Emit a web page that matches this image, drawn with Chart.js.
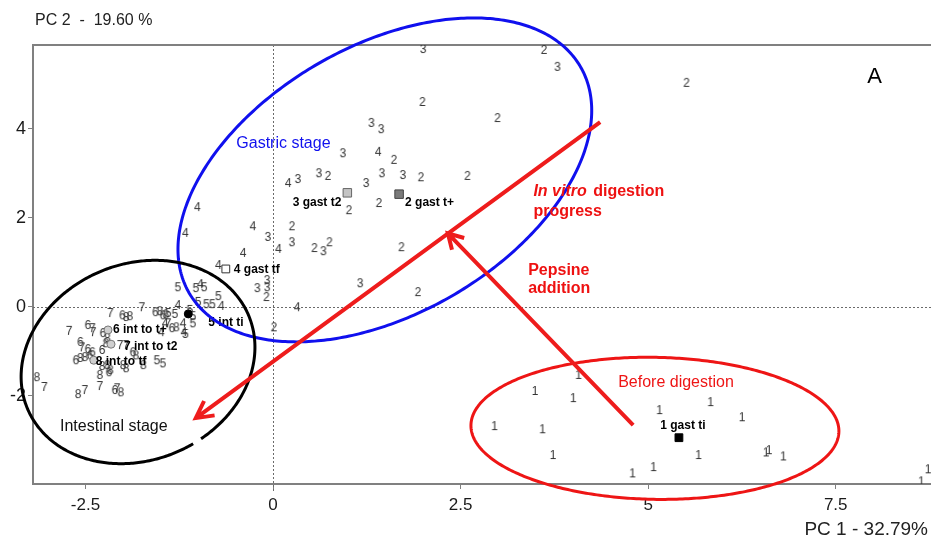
<!DOCTYPE html>
<html><head><meta charset="utf-8">
<script src="https://cdn.jsdelivr.net/npm/chart.js@4/dist/chart.umd.min.js"></script>
<style>html,body{margin:0;padding:0;background:#fff;overflow:hidden}canvas{display:block}</style>
</head><body>
<canvas id="c" width="931" height="543"></canvas>
<script>
// PCA scores (PC1, PC2) for each sampling group, labelled 1..8
const g1 = [[4.07,-1.53],[3.49,-1.89],[4.00,-2.05],[5.83,-2.14],[5.15,-2.32],[6.25,-2.48],[2.95,-2.68],[3.59,-2.75],[3.73,-3.33],[5.67,-3.33],[6.57,-3.27],[6.61,-3.22],[6.80,-3.36],[5.07,-3.60],[4.79,-3.74],[8.73,-3.65],[8.64,-3.92]];
const g2 = [[3.61,5.77],[5.51,5.03],[1.99,4.60],[2.99,4.24],[1.61,3.30],[0.73,2.94],[1.97,2.91],[2.59,2.94],[1.01,2.17],[1.41,2.33],[0.25,1.81],[0.55,1.32],[0.75,1.45],[1.71,1.34],[-0.09,0.22],[1.93,0.33],[0.01,-0.46]];
const g3 = [[2.00,5.79],[3.79,5.39],[1.31,4.13],[1.44,3.99],[0.93,3.45],[0.61,3.00],[1.45,3.00],[1.73,2.96],[1.24,2.78],[0.33,2.87],[-0.07,1.57],[0.25,1.45],[0.67,1.25],[-0.21,0.42],[-0.08,0.60],[-0.08,0.44],[1.16,0.53]];
const g4 = [[1.40,3.48],[0.20,2.78],[-1.01,2.24],[-1.17,1.66],[-0.27,1.81],[0.07,1.30],[-0.40,1.21],[-0.73,0.94],[0.32,-0.01],[-0.97,0.51],[-0.69,0.02],[-1.27,0.04],[-1.44,-0.37],[-1.49,-0.57],[-1.19,-0.57],[-1.20,-0.37]];
const g5 = [[-1.27,0.44],[-1.03,0.42],[-0.92,0.44],[-0.73,0.24],[-1.00,0.11],[-0.89,0.06],[-0.81,0.06],[-1.11,-0.07],[-1.07,-0.21],[-1.07,-0.37],[-1.17,-0.61],[-1.40,-0.14],[-1.31,-0.16],[-1.55,-1.20],[-1.47,-1.27]];
const g6 = [[-1.57,-0.12],[-2.01,-0.19],[-2.47,-0.41],[-1.35,-0.48],[-2.27,-0.59],[-2.57,-0.79],[-2.47,-0.95],[-2.41,-1.02],[-2.63,-1.20],[-2.44,-1.09],[-2.28,-0.97],[-1.87,-1.02],[-2.19,-1.47],[-2.11,-1.87],[-1.47,-0.19]];
const g7 = [[-1.75,-0.01],[-2.17,-0.14],[-2.72,-0.54],[-2.41,-0.48],[-2.40,-0.57],[-1.40,-0.37],[-2.55,-0.91],[-2.04,-0.86],[-1.96,-0.86],[-2.31,-1.78],[-3.05,-1.80],[-2.51,-1.87],[-2.08,-1.83]];
const g8 = [[-1.51,-0.10],[-1.96,-0.23],[-1.91,-0.21],[-1.29,-0.46],[-2.21,-0.70],[-2.57,-1.15],[-2.51,-1.13],[-2.23,-0.82],[-1.83,-1.09],[-2.28,-1.33],[-2.21,-1.31],[-2.17,-1.42],[-2.00,-1.31],[-1.96,-1.38],[-1.73,-1.31],[-2.31,-1.53],[-3.15,-1.58],[-2.60,-1.96],[-2.03,-1.92],[-1.43,-0.17]];

// group centroids
const centroidNames = ['1 gast ti','2 gast t+','3 gast t2','4 gast tf','5 int ti','6 int to t+','7 int to t2','8 int to tf'];
const centroidX = [5.41,1.68,0.99,-0.63,-1.13,-2.20,-2.16,-2.39];
const centroidY = [-2.94,2.53,2.56,0.85,-0.16,-0.52,-0.84,-1.20];

// axis ticks and titles
const xTicks = [-2.5,0,2.5,5,7.5];
const yTicks = [-2,0,2,4];
const xTitle = 'PC 1 - 32.79%';
const yTitle = 'PC 2  -  19.60 %';

const FONT = '"Liberation Sans", Arial, Helvetica, sans-serif';

// each sample is drawn as its group number
function digitStyle(d) {
  const c = document.createElement('canvas');
  c.width = 12; c.height = 14;
  const x = c.getContext('2d');
  x.font = '12px ' + FONT;
  x.fillStyle = '#333';
  x.textAlign = 'center';
  x.textBaseline = 'middle';
  x.fillText(String(d), 6, 7.5);
  return c;
}

const groups = [g1,g2,g3,g4,g5,g6,g7,g8];
const toXY = arr => arr.map(([x,y]) => ({x, y}));

const datasets = [{
  label: 'centroids',
  data: centroidX.map((x,i) => ({x, y: centroidY[i]})),
  pointStyle: ['rect','rect','rect','rect','circle','circle','circle','circle'],
  pointRadius: [5.5,6,6,5.5,4,4,4,4],
  backgroundColor: ['#000','#7a7a7a','#c4c4c4','#fff','#000','#cfcfcf','#cfcfcf','#cfcfcf'],
  borderColor: ['#000','#444','#666','#333','#000','#777','#777','#777'],
  borderWidth: 1
}].concat(groups.map((g,i) => ({
  label: 'group ' + (i+1),
  data: toXY(g),
  pointStyle: digitStyle(i+1),
  pointRadius: 4
})));

// label placement for each centroid: dx, dy, alignment
const centroidLabelPos = [[4,-12,'center'],[6,9,'left'],[-6,10,'right'],[8,1,'left'],[20,9,'left'],[5,0,'left'],[13,2,'left'],[2,1,'left']];

function ellipsePath(ctx, cx, cy, a, b, rotDeg, gap) {
  const r = rotDeg * Math.PI / 180, cr = Math.cos(r), sr = Math.sin(r);
  ctx.beginPath();
  let pen = false;
  for (let i = 0; i <= 400; i++) {
    const t = i / 400 * Math.PI * 2;
    const ex = a * Math.cos(t), ey = b * Math.sin(t);
    const px = cx + ex * cr - ey * sr, py = cy + ex * sr + ey * cr;
    if (gap && Math.hypot(px - gap[0], py - gap[1]) < gap[2]) { pen = false; continue; }
    if (pen) ctx.lineTo(px, py); else { ctx.moveTo(px, py); pen = true; }
  }
  ctx.stroke();
}

function arrow(ctx, x0, y0, x1, y1, len, spread) {
  ctx.beginPath();
  ctx.moveTo(x0, y0); ctx.lineTo(x1, y1);
  const back = Math.atan2(y0 - y1, x0 - x1);
  const s = spread * Math.PI / 180;
  ctx.moveTo(x1 + len * Math.cos(back + s), y1 + len * Math.sin(back + s));
  ctx.lineTo(x1, y1);
  ctx.lineTo(x1 + len * Math.cos(back - s), y1 + len * Math.sin(back - s));
  ctx.stroke();
}

const overlay = {
  id: 'overlay',
  beforeDatasetsDraw(chart) {
    const {ctx, chartArea: a, scales: {x, y}} = chart;
    ctx.save();
    ctx.strokeStyle = '#6a6a6a';
    ctx.lineWidth = 1;
    ctx.setLineDash([2, 2]);
    const x0 = Math.round(x.getPixelForValue(0)) + 0.5;
    const y0 = Math.round(y.getPixelForValue(0)) + 0.5;
    ctx.beginPath();
    ctx.moveTo(x0, a.top); ctx.lineTo(x0, a.bottom + 8);
    ctx.moveTo(a.left, y0); ctx.lineTo(a.right, y0);
    ctx.stroke();
    ctx.setLineDash([]);
    ctx.strokeStyle = '#808080';
    ctx.lineWidth = 2;
    ctx.beginPath();
    ctx.moveTo(a.left - 1, a.top); ctx.lineTo(a.right, a.top);
    ctx.stroke();
    ctx.restore();
  },
  afterDatasetsDraw(chart) {
    const {ctx, scales: {x, y}} = chart;
    const P = (vx, vy) => [x.getPixelForValue(vx), y.getPixelForValue(vy)];
    ctx.save();

    // centroid names
    const meta = chart.getDatasetMeta(0);
    ctx.font = 'bold 12px ' + FONT;
    ctx.fillStyle = '#000';
    ctx.textBaseline = 'middle';
    meta.data.forEach((pt, i) => {
      const [dx, dy, al] = centroidLabelPos[i];
      ctx.textAlign = al;
      ctx.fillText(centroidNames[i], pt.x + dx, pt.y + dy);
    });

    // stage ellipses
    ctx.lineWidth = 3;
    ctx.strokeStyle = '#1010ee';
    let c = P(1.49, 2.85);
    ellipsePath(ctx, c[0], c[1], 226, 134, -30);
    ctx.strokeStyle = '#000';
    c = P(-1.8, -1.24);
    const g = P(-1.03, -2.97);
    ellipsePath(ctx, c[0], c[1], 120, 98, -23, [g[0], g[1], 5]);
    ctx.strokeStyle = '#ee1515';
    c = P(5.09, -2.73);
    ellipsePath(ctx, c[0], c[1], 184, 71, 1);

    // digestion arrows
    ctx.lineWidth = 4;
    ctx.strokeStyle = '#ee1c1c';
    ctx.lineJoin = 'miter';
    let s = P(4.36, 4.15), t = P(-1.03, -2.50);
    arrow(ctx, s[0], s[1], t[0], t[1], 19, 28);
    s = P(4.80, -2.66); t = P(2.33, 1.65);
    arrow(ctx, s[0], s[1], t[0], t[1], 17, 30);

    // annotations
    ctx.textAlign = 'left';
    ctx.textBaseline = 'middle';
    ctx.font = '16px ' + FONT;
    ctx.fillStyle = '#1010ee';
    let p = P(-0.49, 3.66);
    ctx.fillText('Gastric stage', p[0], p[1]);
    ctx.fillStyle = '#111';
    p = P(-2.84, -2.68);
    ctx.fillText('Intestinal stage', p[0], p[1]);
    ctx.fillStyle = '#ee1515';
    p = P(4.60, -1.71);
    ctx.fillText('Before digestion', p[0], p[1]);

    ctx.fillStyle = '#ee1111';
    p = P(3.47, 2.58);
    ctx.font = 'italic bold 16px ' + FONT;
    ctx.fillText('In vitro', p[0], p[1]);
    const w = ctx.measureText('In vitro ').width;
    ctx.font = 'bold 16px ' + FONT;
    ctx.fillText('digestion', p[0] + w + 2, p[1]);
    p = P(3.47, 2.13);
    ctx.fillText('progress', p[0], p[1]);
    p = P(3.40, 0.82);
    ctx.fillText('Pepsine', p[0], p[1]);
    p = P(3.40, 0.42);
    ctx.fillText('addition', p[0], p[1]);

    ctx.fillStyle = '#000';
    ctx.font = '22px ' + FONT;
    p = P(7.92, 5.16);
    ctx.fillText('A', p[0], p[1]);

    // axis titles
    ctx.fillStyle = '#222';
    ctx.font = '16px ' + FONT;
    ctx.fillText(yTitle, 35, 21);
    ctx.textAlign = 'right';
    ctx.font = '19px ' + FONT;
    ctx.fillText(xTitle, 928, 530);
    ctx.restore();
  }
};

new Chart(document.getElementById('c'), {
  type: 'scatter',
  data: {datasets},
  options: {
    responsive: false,
    animation: false,
    devicePixelRatio: 1,
    events: [],
    layout: {autoPadding: false, padding: {top: 45, right: 0, left: 0, bottom: 0}},
    plugins: {legend: {display: false}, tooltip: {enabled: false}},
    scales: {
      x: {
        type: 'linear', min: -3.2, max: 8.77,
        afterBuildTicks: s => { s.ticks = xTicks.map(v => ({value: v})); },
        afterFit: s => { s.height = 59; s.paddingLeft = 0; s.paddingRight = 0; },
        grid: {drawOnChartArea: false, drawTicks: true, tickLength: 5, color: '#808080'},
        border: {display: true, color: '#808080', width: 2},
        ticks: {font: {family: FONT, size: 17}, color: '#1a1a1a', padding: 6, maxRotation: 0, autoSkip: false, callback: v => String(v)}
      },
      y: {
        type: 'linear', min: -3.98, max: 5.88,
        afterBuildTicks: s => { s.ticks = yTicks.map(v => ({value: v})); },
        afterFit: s => { s.width = 33; s.paddingTop = 0; s.paddingBottom = 0; },
        grid: {drawOnChartArea: false, drawTicks: true, tickLength: 5, color: '#808080'},
        border: {display: true, color: '#808080', width: 2},
        ticks: {font: {family: FONT, size: 18}, color: '#1a1a1a', padding: 2, autoSkip: false, callback: v => String(v)}
      }
    }
  },
  plugins: [overlay]
});
</script>
</body></html>
